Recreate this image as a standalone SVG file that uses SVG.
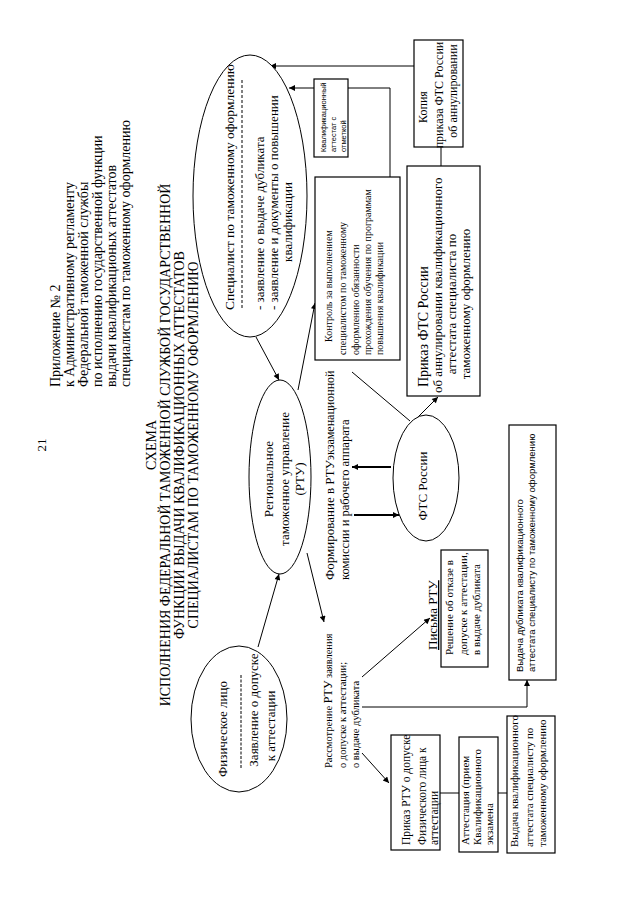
<svg xmlns="http://www.w3.org/2000/svg" width="640" height="900" viewBox="0 0 640 900">
<defs>
<marker id="ah" viewBox="0 0 10 10" refX="10" refY="5" markerWidth="9" markerHeight="6" markerUnits="userSpaceOnUse" orient="auto"><path d="M0,0 L10,5 L0,10 z" fill="#000"/></marker>
</defs>
<style>
.t{font-family:"Liberation Serif","Times New Roman",serif;fill:#000}
.s{font-family:"Liberation Sans",Arial,sans-serif;fill:#000}
.box{fill:#fff;stroke:#000;stroke-width:1.2}
.ell{fill:#fff;stroke:#000;stroke-width:1}
.ln{fill:none;stroke:#000;stroke-width:1}
.thk{fill:none;stroke:#000;stroke-width:2.2}
.m{text-anchor:middle}
</style>
<rect width="640" height="900" fill="#fff"/>

<g id="header">
<text class="t m" x="46" y="445" font-size="13" transform="rotate(-90 46 445)">21</text>
<text class="t" x="60" y="387" font-size="14" transform="rotate(-90 60 387)">Приложение № 2</text>
<text class="t" x="74" y="387" font-size="14" transform="rotate(-90 74 387)">к Административному регламенту</text>
<text class="t" x="88" y="387" font-size="14" transform="rotate(-90 88 387)">Федеральной таможенной службы</text>
<text class="t" x="102" y="387" font-size="14" transform="rotate(-90 102 387)">по исполнению государственной функции</text>
<text class="t" x="116" y="387" font-size="14" transform="rotate(-90 116 387)">выдачи квалификационых аттестатов</text>
<text class="t" x="130" y="387" font-size="14" transform="rotate(-90 130 387)">специалистам по таможенному оформлению</text>
<text class="t m" x="156" y="445" font-size="14" transform="rotate(-90 156 445)">СХЕМА</text>
<text class="t m" x="170" y="445" font-size="14" transform="rotate(-90 170 445)">ИСПОЛНЕНИЯ ФЕДЕРАЛЬНОЙ ТАМОЖЕННОЙ СЛУЖБОЙ ГОСУДАРСТВЕННОЙ</text>
<text class="t m" x="184" y="445" font-size="14" transform="rotate(-90 184 445)">ФУНКЦИИ ВЫДАЧИ КВАЛИФИКАЦИОННЫХ АТТЕСТАТОВ</text>
<text class="t m" x="198" y="445" font-size="14" transform="rotate(-90 198 445)">СПЕЦИАЛИСТАМ ПО ТАМОЖЕННОМУ ОФОРМЛЕНИЮ</text>
</g>

<g id="connectors">
<path class="ln" d="M414,66 H270" marker-end="url(#ah)"/>
<path class="ln" d="M390,177 V88 H289" marker-end="url(#ah)"/>
<path class="ln" d="M441,147 V166"/>
<path class="ln" d="M256,337 L279,380" marker-end="url(#ah)"/>
<path class="ln" d="M298,390 L315,303" marker-end="url(#ah)"/>
<path class="ln" d="M258,647 L279,574" marker-end="url(#ah)"/>
<path class="ln" d="M307,553 L324,622" marker-end="url(#ah)"/>
<path class="thk" d="M391,467 H352" marker-end="url(#ah)"/>
<path class="thk" d="M354,515 H399" marker-end="url(#ah)"/>
<path class="ln" d="M410,421 L352,372"/>
<path class="ln" d="M413,422 L438,397" marker-end="url(#ah)"/>
<path class="ln" d="M362,677 L430,618" marker-end="url(#ah)"/>
<path class="ln" d="M362,707 H527 V680" marker-end="url(#ah)"/>
<path class="ln" d="M362,753 L389,783" marker-end="url(#ah)"/>
<path class="ln" d="M440,793 H459"/>
<path class="ln" d="M498,793 H507"/>
</g>

<g id="specialist">
<ellipse class="ell" cx="250" cy="196" rx="57" ry="141"/>
<text class="t" x="234" y="310" font-size="13.5" transform="rotate(-90 234 310)">Специалист по таможенному оформлению</text>
<line x1="242" y1="308" x2="242" y2="80" stroke="#000" stroke-width="1" stroke-dasharray="3,2"/>
<text class="t" x="264" y="310" font-size="13" transform="rotate(-90 264 310)">- заявление о выдаче дубликата</text>
<text class="t" x="278" y="310" font-size="13" transform="rotate(-90 278 310)">- заявление и документы о повышении</text>
<text class="t m" x="292" y="222" font-size="13" transform="rotate(-90 292 222)">квалификации</text>
</g>

<g id="attestat-mark">
<rect class="box" x="314" y="79" width="34" height="78"/>
<text class="s" x="326" y="152" font-size="7.5" transform="rotate(-90 326 152)">Квалификационный</text>
<text class="s" x="336" y="152" font-size="7.5" transform="rotate(-90 336 152)">аттестат с</text>
<text class="s" x="346" y="152" font-size="7.5" transform="rotate(-90 346 152)">отметкой</text>
</g>

<g id="copy-order">
<rect class="box" x="414" y="40" width="49" height="107"/>
<text class="t m" x="427" y="107" font-size="12" transform="rotate(-90 427 107)">Копия</text>
<text class="t m" x="443" y="95" font-size="12" transform="rotate(-90 443 95)">приказа ФТС России</text>
<text class="t m" x="457" y="91" font-size="12" transform="rotate(-90 457 91)">об аннулировании</text>
</g>

<g id="control">
<rect class="box" x="315" y="177" width="85" height="183"/>
<text class="t" x="332" y="342" font-size="10" transform="rotate(-90 332 342)">Контроль  за выполнением</text>
<text class="t" x="346" y="355" font-size="10" transform="rotate(-90 346 355)">специалистом по таможенному</text>
<text class="t" x="359" y="355" font-size="10" transform="rotate(-90 359 355)">оформлению обязанности</text>
<text class="t" x="371" y="355" font-size="10" transform="rotate(-90 371 355)">прохождения обучения по программам</text>
<text class="t" x="383" y="355" font-size="10" transform="rotate(-90 383 355)">повышения квалификации</text>
</g>

<g id="fts-order">
<rect class="box" x="407" y="166" width="73" height="230"/>
<text class="t" x="428" y="387" font-size="14" transform="rotate(-90 428 387)">Приказ ФТС России</text>
<text class="t" x="442" y="393" font-size="13" transform="rotate(-90 442 393)">об аннулировании квалификационного</text>
<text class="t m" x="456" y="304" font-size="13" transform="rotate(-90 456 304)">аттестата специалиста по</text>
<text class="t m" x="470" y="304" font-size="13" transform="rotate(-90 470 304)">таможенному оформлению</text>
</g>

<g id="rtu">
<ellipse class="ell" cx="280" cy="477" rx="31" ry="97"/>
<text class="t m" x="273" y="479" font-size="13" transform="rotate(-90 273 479)">Региональное</text>
<text class="t m" x="289" y="479" font-size="13" transform="rotate(-90 289 479)">таможенное управление</text>
<text class="t m" x="304" y="479" font-size="13" transform="rotate(-90 304 479)">(РТУ)</text>
</g>

<g id="forming-label">
<text class="t" x="334" y="580" font-size="13" transform="rotate(-90 334 580)">Формирование в РТУ<tspan font-size="12">экзаменационной</tspan></text>
<text class="t" x="349" y="580" font-size="12.5" transform="rotate(-90 349 580)">комиссии и рабочего аппарата</text>
</g>

<g id="fts">
<ellipse class="ell" cx="426" cy="478" rx="33" ry="63"/>
<text class="t m" x="427" y="486" font-size="13" transform="rotate(-90 427 486)">ФТС России</text>
</g>

<g id="person">
<ellipse class="ell" cx="239" cy="719" rx="48" ry="73"/>
<text class="t m" x="227" y="729" font-size="13" transform="rotate(-90 227 729)">Физическое лицо</text>
<line x1="241" y1="768" x2="241" y2="675" stroke="#000" stroke-width="1" stroke-dasharray="3,1.5"/>
<text class="t m" x="258" y="710" font-size="13" transform="rotate(-90 258 710)">Заявление о допуске</text>
<text class="t m" x="275" y="726" font-size="13" transform="rotate(-90 275 726)">к аттестации</text>
</g>

<g id="review-label">
<text class="t" x="332" y="768" font-size="10.5" transform="rotate(-90 332 768)">Рассмотрение <tspan font-size="12">РТУ</tspan> заявления</text>
<text class="t" x="346" y="768" font-size="10.5" transform="rotate(-90 346 768)">о допуске к аттестации;</text>
<text class="t" x="359" y="768" font-size="10.5" transform="rotate(-90 359 768)">о выдаче дубликата</text>
</g>

<g id="letters">
<text class="t" x="437" y="650" font-size="13" text-decoration="underline" transform="rotate(-90 437 650)">Письма РТУ</text>
<rect class="box" x="441" y="550" width="47" height="117"/>
<text class="t" x="453" y="655" font-size="11" transform="rotate(-90 453 655)">Решение об отказе в</text>
<text class="t" x="467" y="655" font-size="11" transform="rotate(-90 467 655)">допуске к аттестации,</text>
<text class="t" x="480" y="655" font-size="11" transform="rotate(-90 480 655)">в выдаче дубликата</text>
</g>

<g id="duplicate">
<rect class="box" x="509" y="425" width="47" height="255"/>
<text class="s" x="523" y="672" font-size="9.5" transform="rotate(-90 523 672)">Выдача  дубликата квалификационного</text>
<text class="s" x="535" y="672" font-size="9.5" transform="rotate(-90 535 672)">аттестата специалисту по таможенному оформлению</text>
</g>

<g id="rtu-order">
<rect class="box" x="391" y="735" width="49" height="115"/>
<text class="t" x="410" y="845" font-size="11.5" transform="rotate(-90 410 845)">Приказ РТУ о допуске</text>
<text class="t" x="426" y="845" font-size="11.5" transform="rotate(-90 426 845)">Физического лица к</text>
<text class="t" x="438" y="845" font-size="11.5" transform="rotate(-90 438 845)">аттестации</text>
</g>

<g id="attestation">
<rect class="box" x="459" y="737" width="39" height="115"/>
<text class="t" x="469" y="845" font-size="11" transform="rotate(-90 469 845)">Аттестация (прием</text>
<text class="t" x="481" y="845" font-size="11" transform="rotate(-90 481 845)">Квалификационного</text>
<text class="t" x="493" y="845" font-size="11" transform="rotate(-90 493 845)">экзамена</text>
</g>

<g id="issue">
<rect class="box" x="507" y="716" width="48" height="137"/>
<text class="t" x="518" y="847" font-size="11" transform="rotate(-90 518 847)">Выдача квалификационного</text>
<text class="t" x="533" y="847" font-size="11" transform="rotate(-90 533 847)">аттестата специалисту по</text>
<text class="t" x="546" y="847" font-size="11" transform="rotate(-90 546 847)">таможенному оформлению</text>
</g>
</svg>
